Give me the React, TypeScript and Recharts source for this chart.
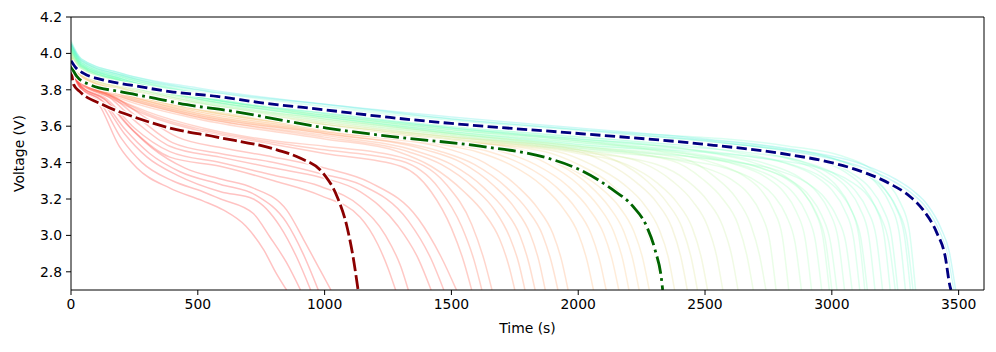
import { LineChart, Line, XAxis, YAxis, ReferenceLine } from "recharts";

type Pt = [number, number];

const xTicks = [0, 500, 1000, 1500, 2000, 2500, 3000, 3500];
const yTicks = [2.8, 3.0, 3.2, 3.4, 3.6, 3.8, 4.0, 4.2];

// highlighted cells
const darkRedCurve: Pt[] = [
  [0, 3.93], [10, 3.83], [35, 3.79], [126, 3.718], [260, 3.645], [390, 3.59], [575, 3.54],
  [812, 3.47], [903, 3.425], [994, 3.342], [1049, 3.214], [1088, 3.049], [1112, 2.884], [1132, 2.7],
];
const greenCurve: Pt[] = [
  [0, 3.93], [23, 3.874], [75, 3.828], [193, 3.79], [323, 3.756], [457, 3.718], [614, 3.687],
  [1008, 3.59], [1258, 3.544], [1613, 3.49], [1876, 3.426], [2007, 3.36], [2137, 3.25],
  [2216, 3.159], [2270, 3.049], [2303, 2.92], [2330, 2.74], [2333, 2.7],
];
const navyCurve: Pt[] = [
  [0, 3.96], [20, 3.92], [50, 3.89], [125, 3.855], [260, 3.82], [390, 3.79], [575, 3.764],
  [745, 3.73], [1000, 3.69], [1258, 3.648], [1500, 3.615], [2000, 3.56], [2480, 3.503],
  [2835, 3.443], [2966, 3.41], [3099, 3.36], [3230, 3.283], [3308, 3.214], [3360, 3.14],
  [3414, 3.014], [3447, 2.884], [3466, 2.72], [3470, 2.7],
];

// background cells
const redLowCurves: Pt[][] = [
  [[0, 3.9], [40, 3.8], [110, 3.72], [190, 3.49], [260, 3.37], [390, 3.26], [520, 3.19], [600, 3.14], [690, 3.05], [760, 2.92], [810, 2.79], [850, 2.7]],
  [[0, 3.9], [40, 3.8], [115, 3.73], [200, 3.53], [280, 3.4], [400, 3.3], [520, 3.24], [590, 3.2], [719, 3.12], [785, 2.99], [850, 2.85], [905, 2.7]],
  [[0, 3.91], [40, 3.81], [120, 3.74], [210, 3.56], [300, 3.43], [420, 3.33], [590, 3.24], [719, 3.2], [824, 3.05], [890, 2.88], [945, 2.7]],
  [[0, 3.91], [40, 3.81], [125, 3.74], [215, 3.58], [310, 3.45], [430, 3.35], [590, 3.28], [730, 3.22], [850, 3.07], [915, 2.9], [975, 2.7]],
  [[0, 3.92], [40, 3.82], [130, 3.75], [220, 3.61], [320, 3.48], [450, 3.37], [590, 3.31], [719, 3.26], [850, 3.14], [916, 2.98], [982, 2.81], [1025, 2.7]],
];
const redHighCurves: Pt[][] = [
  [[0, 3.92], [40, 3.82], [140, 3.74], [250, 3.57], [390, 3.43], [588, 3.38], [800, 3.3], [982, 3.22], [1140, 3.1], [1210, 2.95], [1250, 2.82], [1280, 2.7]],
  [[0, 3.92], [40, 3.82], [140, 3.75], [250, 3.59], [390, 3.46], [588, 3.4], [800, 3.33], [982, 3.27], [1140, 3.16], [1240, 3.0], [1300, 2.83], [1330, 2.7]],
  [[0, 3.92], [40, 3.83], [150, 3.76], [260, 3.62], [390, 3.49], [588, 3.43], [800, 3.37], [982, 3.32], [1140, 3.24], [1290, 3.05], [1370, 2.87], [1420, 2.7]],
  [[0, 3.93], [40, 3.83], [150, 3.77], [270, 3.64], [400, 3.51], [588, 3.45], [800, 3.4], [982, 3.34], [1140, 3.28], [1330, 3.08], [1420, 2.87], [1470, 2.7]],
  [[0, 3.93], [40, 3.84], [160, 3.77], [280, 3.66], [420, 3.54], [600, 3.48], [800, 3.43], [1000, 3.37], [1180, 3.29], [1370, 3.09], [1460, 2.88], [1520, 2.7]],
];
const redOrangeCurves: Pt[][] = [
  [[0, 3.93], [40, 3.84], [150, 3.76], [300, 3.66], [520, 3.57], [800, 3.5], [1000, 3.45], [1300, 3.38], [1420, 3.24], [1500, 3.04], [1550, 2.85], [1580, 2.7]],
  [[0, 3.93], [40, 3.84], [150, 3.77], [300, 3.67], [520, 3.58], [800, 3.51], [1000, 3.47], [1300, 3.41], [1450, 3.26], [1540, 3.05], [1590, 2.86], [1620, 2.7]],
  [[0, 3.94], [40, 3.85], [150, 3.77], [300, 3.68], [520, 3.59], [800, 3.52], [1000, 3.49], [1300, 3.43], [1480, 3.28], [1580, 3.06], [1630, 2.86], [1660, 2.7]],
];
const orangeCurves: Pt[][] = [
  [[0, 3.93], [40, 3.85], [200, 3.75], [500, 3.64], [1000, 3.53], [1290, 3.46], [1420, 3.38], [1550, 3.24], [1630, 3.12], [1690, 2.98], [1725, 2.84], [1750, 2.7]],
  [[0, 3.93], [40, 3.85], [200, 3.76], [500, 3.65], [1000, 3.54], [1330, 3.46], [1460, 3.39], [1590, 3.26], [1670, 3.14], [1730, 2.99], [1765, 2.85], [1790, 2.7]],
  [[0, 3.94], [40, 3.85], [200, 3.76], [500, 3.65], [1000, 3.55], [1370, 3.46], [1500, 3.39], [1630, 3.26], [1710, 3.14], [1770, 3.0], [1805, 2.85], [1830, 2.7]],
  [[0, 3.94], [40, 3.86], [200, 3.77], [500, 3.66], [1000, 3.56], [1400, 3.47], [1540, 3.4], [1670, 3.27], [1750, 3.15], [1810, 3.01], [1845, 2.86], [1870, 2.7]],
  [[0, 3.94], [40, 3.86], [200, 3.77], [500, 3.66], [1000, 3.56], [1460, 3.46], [1590, 3.39], [1720, 3.26], [1800, 3.14], [1860, 3.0], [1895, 2.85], [1920, 2.7]],
  [[0, 3.95], [40, 3.86], [200, 3.78], [500, 3.67], [1000, 3.57], [1500, 3.47], [1630, 3.4], [1760, 3.27], [1840, 3.15], [1900, 3.01], [1935, 2.86], [1960, 2.7]],
];
const orangeYellowCurves: Pt[][] = [
  [[0, 3.95], [40, 3.87], [200, 3.78], [500, 3.67], [1000, 3.57], [1500, 3.49], [1600, 3.46], [1730, 3.39], [1860, 3.27], [1940, 3.15], [2000, 3.01], [2035, 2.86], [2060, 2.7]],
  [[0, 3.95], [40, 3.87], [200, 3.78], [500, 3.68], [1000, 3.58], [1500, 3.5], [1650, 3.46], [1780, 3.39], [1910, 3.27], [1990, 3.15], [2050, 3.01], [2085, 2.86], [2110, 2.7]],
  [[0, 3.96], [40, 3.87], [200, 3.79], [500, 3.68], [1000, 3.58], [1500, 3.51], [1700, 3.46], [1830, 3.39], [1960, 3.27], [2040, 3.15], [2100, 3.01], [2135, 2.86], [2160, 2.7]],
  [[0, 3.96], [40, 3.88], [200, 3.79], [500, 3.69], [1000, 3.59], [1500, 3.51], [1740, 3.47], [1870, 3.4], [2000, 3.28], [2080, 3.16], [2140, 3.02], [2175, 2.87], [2200, 2.7]],
  [[0, 3.96], [40, 3.88], [200, 3.79], [500, 3.69], [1000, 3.59], [1500, 3.52], [1780, 3.47], [1910, 3.4], [2040, 3.28], [2120, 3.16], [2180, 3.02], [2215, 2.87], [2240, 2.7]],
];
const yellowCurves: Pt[][] = [
  [[0, 3.96], [40, 3.88], [200, 3.79], [500, 3.69], [1000, 3.59], [1500, 3.51], [1820, 3.45], [1950, 3.38], [2080, 3.27], [2160, 3.16], [2220, 3.02], [2255, 2.87], [2280, 2.7]],
  [[0, 3.97], [40, 3.88], [200, 3.8], [500, 3.7], [1000, 3.6], [1500, 3.52], [1870, 3.46], [2000, 3.39], [2130, 3.28], [2210, 3.16], [2270, 3.02], [2305, 2.87], [2330, 2.7]],
  [[0, 3.97], [40, 3.89], [200, 3.8], [500, 3.7], [1000, 3.6], [1500, 3.52], [1920, 3.46], [2050, 3.39], [2180, 3.28], [2260, 3.17], [2320, 3.03], [2355, 2.88], [2380, 2.7]],
  [[0, 3.98], [40, 3.89], [200, 3.81], [500, 3.71], [1000, 3.61], [1500, 3.53], [2000, 3.46], [2110, 3.4], [2230, 3.29], [2310, 3.18], [2370, 3.04], [2405, 2.88], [2430, 2.7]],
  [[0, 3.98], [40, 3.89], [200, 3.81], [500, 3.71], [1000, 3.61], [1500, 3.54], [2000, 3.47], [2150, 3.41], [2270, 3.3], [2350, 3.18], [2410, 3.04], [2445, 2.88], [2470, 2.7]],
];
const yellowGreenCurves: Pt[][] = [
  [[0, 3.98], [40, 3.89], [200, 3.81], [500, 3.71], [1000, 3.61], [1500, 3.53], [2000, 3.45], [2190, 3.39], [2310, 3.29], [2390, 3.18], [2450, 3.04], [2485, 2.88], [2510, 2.7]],
  [[0, 3.99], [40, 3.9], [200, 3.82], [500, 3.72], [1000, 3.62], [1500, 3.54], [2000, 3.47], [2250, 3.4], [2370, 3.3], [2450, 3.19], [2510, 3.05], [2545, 2.89], [2570, 2.7]],
  [[0, 3.99], [40, 3.9], [200, 3.82], [500, 3.72], [1000, 3.62], [1500, 3.54], [2000, 3.46], [2310, 3.39], [2430, 3.3], [2510, 3.19], [2570, 3.05], [2605, 2.89], [2630, 2.7]],
  [[0, 4.0], [40, 3.91], [200, 3.83], [500, 3.73], [1000, 3.63], [1500, 3.55], [2000, 3.48], [2370, 3.41], [2490, 3.31], [2570, 3.2], [2630, 3.06], [2665, 2.89], [2690, 2.7]],
  [[0, 4.0], [40, 3.91], [200, 3.83], [500, 3.73], [1000, 3.64], [1500, 3.56], [2000, 3.49], [2420, 3.42], [2540, 3.32], [2620, 3.21], [2680, 3.06], [2715, 2.89], [2740, 2.7]],
];
const lightGreenCurves: Pt[][] = [
  [[0, 4.01], [40, 3.92], [200, 3.84], [500, 3.74], [1000, 3.64], [1500, 3.56], [2000, 3.49], [2280, 3.44], [2480, 3.38], [2600, 3.31], [2670, 3.23], [2720, 3.12], [2755, 2.97], [2780, 2.7]],
  [[0, 4.02], [40, 3.93], [200, 3.85], [500, 3.75], [1000, 3.66], [1500, 3.58], [2000, 3.52], [2330, 3.46], [2530, 3.4], [2650, 3.33], [2720, 3.25], [2770, 3.14], [2805, 2.99], [2830, 2.7]],
  [[0, 4.0], [40, 3.91], [200, 3.83], [500, 3.73], [1000, 3.63], [1500, 3.55], [2000, 3.47], [2380, 3.42], [2580, 3.37], [2700, 3.3], [2770, 3.22], [2820, 3.11], [2855, 2.96], [2880, 2.7]],
  [[0, 4.02], [40, 3.92], [200, 3.84], [500, 3.75], [1000, 3.65], [1500, 3.57], [2000, 3.51], [2420, 3.45], [2620, 3.39], [2740, 3.32], [2810, 3.24], [2860, 3.13], [2895, 2.98], [2920, 2.7]],
  [[0, 4.01], [40, 3.92], [200, 3.84], [500, 3.74], [1000, 3.64], [1500, 3.56], [2000, 3.49], [2460, 3.43], [2660, 3.38], [2780, 3.31], [2850, 3.23], [2900, 3.12], [2935, 2.97], [2960, 2.7]],
  [[0, 4.03], [40, 3.93], [200, 3.85], [500, 3.76], [1000, 3.66], [1500, 3.59], [2000, 3.53], [2490, 3.46], [2690, 3.4], [2810, 3.33], [2880, 3.25], [2930, 3.14], [2965, 2.99], [2990, 2.7]],
];
const aquaCurves: Pt[][] = [
  [[0, 4.03], [40, 3.93], [200, 3.85], [500, 3.76], [1000, 3.66], [1500, 3.58], [2000, 3.52], [2500, 3.44], [2700, 3.38], [2820, 3.31], [2890, 3.23], [2940, 3.12], [2975, 2.97], [3000, 2.7]],
  [[0, 4.02], [40, 3.93], [200, 3.85], [500, 3.75], [1000, 3.65], [1500, 3.57], [2000, 3.5], [2520, 3.43], [2720, 3.37], [2840, 3.3], [2910, 3.22], [2960, 3.11], [2995, 2.96], [3020, 2.7]],
  [[0, 4.03], [40, 3.94], [200, 3.86], [500, 3.76], [1000, 3.67], [1500, 3.59], [2000, 3.53], [2550, 3.45], [2750, 3.39], [2870, 3.32], [2940, 3.24], [2990, 3.13], [3025, 2.98], [3050, 2.7]],
  [[0, 4.02], [40, 3.93], [200, 3.85], [500, 3.75], [1000, 3.65], [1500, 3.56], [2000, 3.48], [2580, 3.41], [2780, 3.36], [2900, 3.29], [2970, 3.21], [3020, 3.1], [3055, 2.96], [3080, 2.7]],
  [[0, 4.04], [40, 3.94], [200, 3.86], [500, 3.77], [1000, 3.68], [1500, 3.6], [2000, 3.54], [2610, 3.46], [2810, 3.4], [2930, 3.33], [3000, 3.25], [3050, 3.14], [3085, 2.99], [3110, 2.7]],
  [[0, 4.05], [40, 3.96], [200, 3.88], [500, 3.78], [1000, 3.69], [1500, 3.62], [2000, 3.57], [2630, 3.48], [2830, 3.42], [2950, 3.35], [3020, 3.27], [3070, 3.16], [3105, 3.01], [3130, 2.7]],
  [[0, 4.03], [40, 3.94], [200, 3.85], [500, 3.76], [1000, 3.66], [1500, 3.58], [2000, 3.51], [2640, 3.44], [2840, 3.39], [2960, 3.32], [3030, 3.24], [3080, 3.13], [3115, 2.98], [3140, 2.7]],
  [[0, 4.04], [40, 3.95], [200, 3.87], [500, 3.77], [1000, 3.68], [1500, 3.61], [2000, 3.55], [2670, 3.47], [2870, 3.41], [2990, 3.34], [3060, 3.26], [3110, 3.15], [3145, 3.0], [3170, 2.7]],
  [[0, 4.03], [40, 3.94], [200, 3.86], [500, 3.76], [1000, 3.67], [1500, 3.59], [2000, 3.52], [2700, 3.45], [2900, 3.4], [3020, 3.33], [3090, 3.25], [3140, 3.14], [3175, 2.99], [3200, 2.7]],
  [[0, 4.05], [40, 3.95], [200, 3.87], [500, 3.78], [1000, 3.69], [1500, 3.62], [2000, 3.56], [2730, 3.48], [2930, 3.42], [3050, 3.35], [3120, 3.27], [3170, 3.16], [3205, 3.01], [3230, 2.7]],
  [[0, 4.03], [40, 3.93], [200, 3.85], [500, 3.75], [1000, 3.65], [1500, 3.57], [2000, 3.5], [2750, 3.42], [2950, 3.37], [3070, 3.3], [3140, 3.22], [3190, 3.11], [3225, 2.96], [3250, 2.7]],
  [[0, 4.04], [40, 3.95], [200, 3.86], [500, 3.77], [1000, 3.68], [1500, 3.6], [2000, 3.54], [2760, 3.46], [2960, 3.41], [3080, 3.34], [3150, 3.26], [3200, 3.15], [3235, 3.0], [3260, 2.7]],
  [[0, 4.06], [40, 3.96], [200, 3.88], [500, 3.79], [1000, 3.7], [1500, 3.63], [2000, 3.57], [2790, 3.48], [2990, 3.43], [3110, 3.36], [3180, 3.28], [3230, 3.17], [3265, 3.02], [3290, 2.7]],
  [[0, 4.05], [40, 3.95], [200, 3.87], [500, 3.78], [1000, 3.69], [1500, 3.61], [2000, 3.55], [2810, 3.47], [3010, 3.42], [3130, 3.35], [3200, 3.27], [3250, 3.16], [3285, 3.01], [3310, 2.7]],
  [[0, 4.04], [40, 3.94], [200, 3.86], [500, 3.76], [1000, 3.67], [1500, 3.59], [2000, 3.53], [2820, 3.45], [3020, 3.4], [3140, 3.33], [3210, 3.25], [3260, 3.14], [3295, 2.99], [3320, 2.7]],
  [[0, 4.07], [40, 3.97], [200, 3.89], [500, 3.8], [1000, 3.71], [1500, 3.64], [2000, 3.58], [2830, 3.49], [3030, 3.44], [3150, 3.37], [3220, 3.29], [3270, 3.18], [3305, 3.03], [3330, 2.7]],
];
const cyanCurves: Pt[][] = [
  [[0, 4.05], [40, 3.96], [200, 3.88], [500, 3.8], [1000, 3.72], [1500, 3.64], [2000, 3.58], [2500, 3.52], [2850, 3.46], [3110, 3.38], [3240, 3.3], [3316, 3.23], [3368, 3.16], [3422, 3.03], [3455, 2.9], [3480, 2.7]],
  [[0, 4.06], [40, 3.97], [200, 3.89], [500, 3.81], [1000, 3.72], [1500, 3.65], [2000, 3.59], [2500, 3.53], [2860, 3.47], [3120, 3.39], [3250, 3.31], [3325, 3.24], [3376, 3.17], [3430, 3.04], [3463, 2.91], [3488, 2.7]],
];

const faintGroups = [
  redLowCurves, redHighCurves, redOrangeCurves, orangeCurves, orangeYellowCurves,
  yellowCurves, yellowGreenCurves, lightGreenCurves, aquaCurves, cyanCurves,
];

// where along the rainbow colormap a curve sits, keyed by its end time
const shadeStops: Pt[] = [
  [850, 1.0], [1520, 0.96], [1660, 0.9], [2000, 0.8], [2500, 0.66], [3000, 0.52], [3330, 0.44], [3490, 0.35],
];

function rainbow(x: number) {
  const r = Math.min(1, Math.abs(2 * x - 0.5));
  const g = Math.sin(Math.PI * x);
  const b = Math.cos((Math.PI * x) / 2);
  const c = (n: number) => Math.round(Math.max(0, Math.min(1, n)) * 255);
  return `rgb(${c(r)},${c(g)},${c(b)})`;
}

function shade(end: number) {
  for (let i = 1; i < shadeStops.length; i++) {
    const [t0, s0] = shadeStops[i - 1];
    const [t1, s1] = shadeStops[i];
    if (end <= t1) return rainbow(s0 + ((Math.max(end, t0) - t0) / (t1 - t0)) * (s1 - s0));
  }
  return rainbow(shadeStops[shadeStops.length - 1][1]);
}

const rows = (c: Pt[]) => c.map(([t, v]) => ({ t, v }));

const font = { fill: "#000", fontSize: 13.9, fontFamily: "DejaVu Sans" };

const bold = [
  { data: darkRedCurve, color: "#8b0000", dash: "14 4" },
  { data: greenCurve, color: "#006400", dash: "17.8 4.4 2.8 4.4" },
  { data: navyCurve, color: "#000080", dash: "10.3 4.4" },
];

export default function App() {
  const faint = faintGroups.flat();
  return (
    <div style={{ width: 996, height: 352, fontFamily: "DejaVu Sans" }}>
      <style>{"body{margin:0}"}</style>
      <LineChart width={996} height={352} margin={{ top: 17, right: 12, bottom: 0, left: 0 }}>
        <XAxis
          dataKey="t"
          type="number"
          domain={[0, 3600]}
          ticks={xTicks}
          allowDataOverflow
          height={62}
          tick={font}
          tickSize={5}
          tickMargin={4}
          axisLine={{ stroke: "#000", strokeWidth: 1 }}
          tickLine={{ stroke: "#000", strokeWidth: 1 }}
          label={{ value: "Time (s)", position: "insideBottom", offset: 19, ...font }}
        />
        <YAxis
          type="number"
          domain={[2.7, 4.2]}
          ticks={yTicks}
          allowDataOverflow
          width={71}
          tick={font}
          tickSize={5}
          tickMargin={4}
          tickFormatter={(v: number) => v.toFixed(1)}
          axisLine={{ stroke: "#000", strokeWidth: 1 }}
          tickLine={{ stroke: "#000", strokeWidth: 1 }}
          label={{
            value: "Voltage (V)",
            angle: -90,
            position: "insideLeft",
            offset: 19,
            ...font,
            style: { textAnchor: "middle" },
          }}
        />

        {faint.map((c, i) => (
          <Line
            key={"f" + i}
            data={rows(c)}
            dataKey="v"
            type="monotone"
            stroke={shade(c[c.length - 1][0])}
            strokeOpacity={0.24}
            strokeWidth={1.5}
            dot={false}
            activeDot={false}
            isAnimationActive={false}
          />
        ))}

        {bold.map((b, i) => [
          <Line
            key={"w" + i}
            data={rows(b.data)}
            dataKey="v"
            type="monotone"
            stroke="#fff"
            strokeWidth={5}
            dot={false}
            activeDot={false}
            isAnimationActive={false}
          />,
          <Line
            key={"b" + i}
            data={rows(b.data)}
            dataKey="v"
            type="monotone"
            stroke={b.color}
            strokeWidth={2.8}
            strokeDasharray={b.dash}
            dot={false}
            activeDot={false}
            isAnimationActive={false}
          />,
        ])}

        <ReferenceLine y={4.2} stroke="#000" strokeWidth={1} />
        <ReferenceLine x={3600} stroke="#000" strokeWidth={1} />
      </LineChart>
    </div>
  );
}
